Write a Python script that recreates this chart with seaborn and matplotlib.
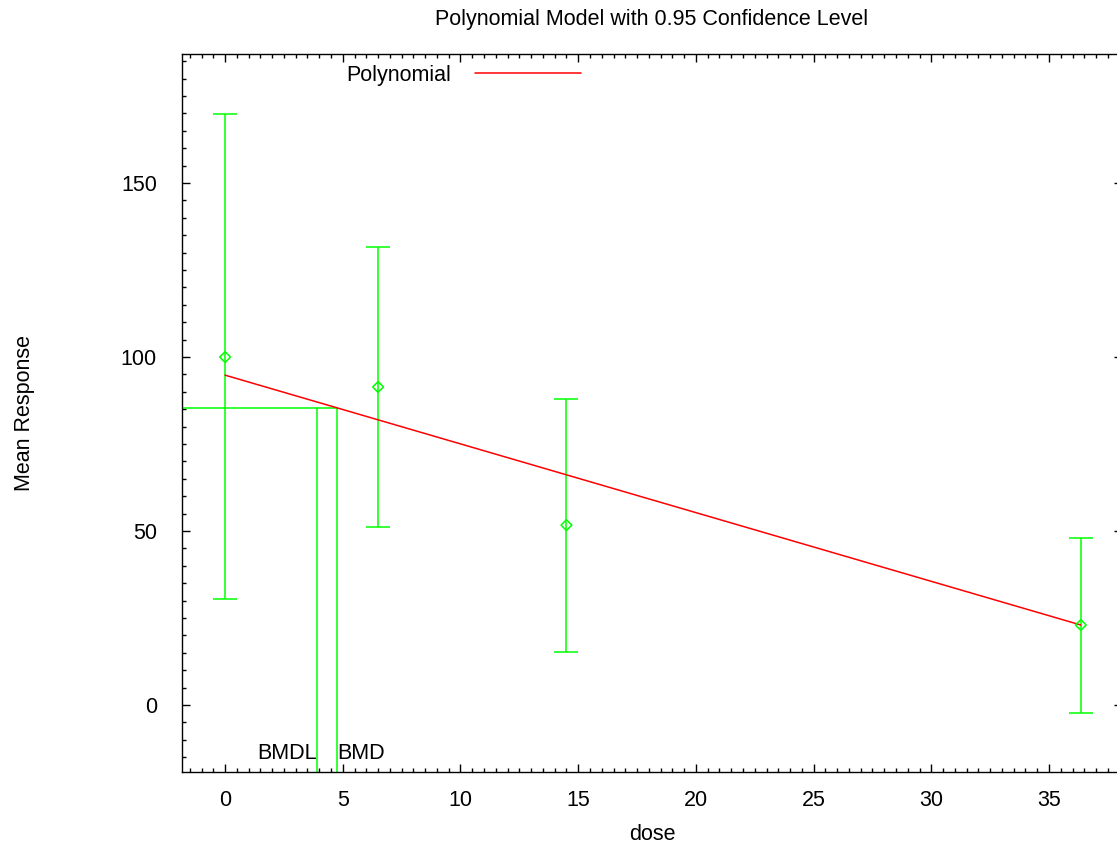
import matplotlib
matplotlib.use("Agg")
import matplotlib.pyplot as plt
from matplotlib.ticker import MultipleLocator
import seaborn as sns
import pandas as pd

# ---- data ----
dose = [0.0, 6.5, 14.5, 36.35]
mean_resp = [100.0, 91.4, 51.7, 23.0]
upper_ci = [169.8, 131.6, 87.9, 48.0]
lower_ci = [30.5, 51.1, 15.2, -2.3]

fit_dose = [0.0, 36.35]
fit_resp = [94.8, 23.0]

bmd = 4.76
bmdl = 3.9
bmr_level = 85.3

title = "Polynomial Model with 0.95 Confidence Level"
x_label = "dose"
y_label = "Mean Response"
legend_label = "Polynomial"

GREEN = "#00ff00"
RED = "#ff0000"
FS = 15.5

sns.set_theme(style="white")
plt.rcParams["font.family"] = ["Liberation Sans", "DejaVu Sans"]
plt.rcParams["text.color"] = "black"

fig = plt.figure(figsize=(11.17, 8.48), dpi=100)
ax = fig.add_axes([182 / 1117, (848 - 772) / 848, (1122 - 182) / 1117, (772 - 54) / 848])

xmin, xmax = -1.83, 38.1
ymin, ymax = -19.25, 187.1

df = pd.DataFrame({"dose": dose, "mean": mean_resp, "lo": lower_ci, "hi": upper_ci})
fit_df = pd.DataFrame({"dose": fit_dose, "resp": fit_resp})

# error bars
yerr = [[m - l for m, l in zip(mean_resp, lower_ci)], [h - m for m, h in zip(mean_resp, upper_ci)]]
ax.errorbar(dose, mean_resp, yerr=yerr, fmt="none", ecolor=GREEN, elinewidth=1.1,
            capsize=8.3, capthick=1.1, zorder=2)

# means as open diamonds
sns.scatterplot(data=df, x="dose", y="mean", marker="D", s=30, facecolors="none",
                edgecolor=GREEN, linewidth=1.1, ax=ax, zorder=4, legend=False)

# fitted line
sns.lineplot(data=fit_df, x="dose", y="resp", color=RED, linewidth=1.1, ax=ax,
             label=legend_label, zorder=3)

# BMD / BMDL lines
ax.plot([xmin, bmd], [bmr_level, bmr_level], color=GREEN, lw=1.1, zorder=2)
ax.plot([bmdl, bmdl], [bmr_level, ymin], color=GREEN, lw=1.1, zorder=2)
ax.plot([bmd, bmd], [bmr_level, ymin], color=GREEN, lw=1.1, zorder=2)
ax.text(bmdl, -14.0, "BMDL", ha="right", va="center", fontsize=FS, color="black")
ax.text(bmd, -14.0, "BMD", ha="left", va="center", fontsize=FS, color="black")

ax.set_xlim(xmin, xmax)
ax.set_ylim(ymin, ymax)

ax.xaxis.set_major_locator(MultipleLocator(5))
ax.xaxis.set_minor_locator(MultipleLocator(0.5))
ax.yaxis.set_major_locator(MultipleLocator(50))
ax.yaxis.set_minor_locator(MultipleLocator(5))

ax.tick_params(which="both", direction="in", top=True, right=True, bottom=True, left=True,
               color="black", width=1.0, labelsize=FS, labelcolor="black")
ax.tick_params(which="major", length=6)
ax.tick_params(which="minor", length=3)
ax.tick_params(axis="x", which="major", pad=13)
ax.tick_params(axis="y", which="major", pad=18)

for s in ax.spines.values():
    s.set_color("black")
    s.set_linewidth(1.0)

ax.set_xlabel(x_label, fontsize=FS, color="black", labelpad=9)
ax.set_ylabel(y_label, fontsize=FS, color="black", labelpad=62)
ax.set_title(title, fontsize=FS, color="black", pad=21)

leg = ax.legend(loc="center left", bbox_to_anchor=(346 / 1117, 1 - 75 / 848),
                bbox_transform=fig.transFigure, frameon=False, markerfirst=False,
                handlelength=4.93, handletextpad=1.12, borderpad=0, borderaxespad=0,
                fontsize=FS, labelcolor="black")

fig.savefig("out.png", dpi=100)
